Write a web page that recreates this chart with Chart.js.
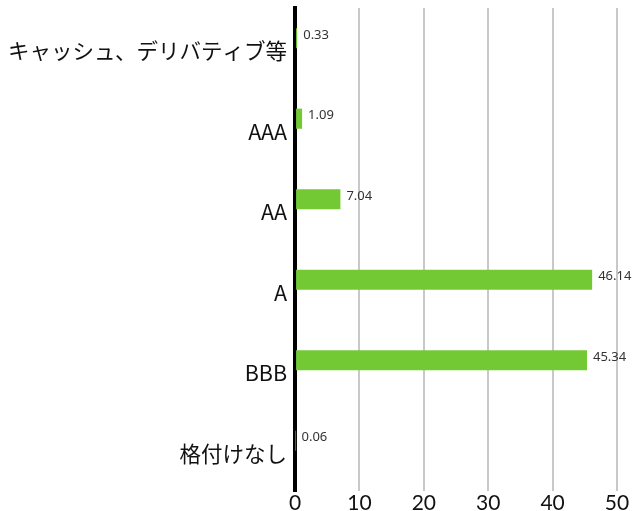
<!DOCTYPE html>
<html>
<head>
<meta charset="utf-8">
<script src="https://cdn.jsdelivr.net/npm/chart.js@4.4.0/dist/chart.umd.min.js"></script>
<style>
  body { margin: 0; background: #fff; }
  #wrap { width: 634px; height: 511px; }
</style>
</head>
<body>
<div id="wrap"><canvas id="myChart"></canvas></div>
<script>
const categories = ['キャッシュ、デリバティブ等', 'AAA', 'AA', 'A', 'BBB', '格付けなし'];
const values = [0.33, 1.09, 7.04, 46.14, 45.34, 0.06];
const spacer = [null, null, null, null, null, null];
const tickValues = [0, 10, 20, 30, 40, 50];

// value labels at the end of each bar
const valueLabels = {
  id: 'valueLabels',
  afterDatasetsDraw(chart) {
    const ctx = chart.ctx;
    const meta = chart.getDatasetMeta(0);
    ctx.save();
    ctx.font = '13px "Noto Sans", Lato';
    ctx.fillStyle = '#333';
    ctx.textAlign = 'left';
    ctx.textBaseline = 'middle';
    meta.data.forEach(function(bar, i) {
      ctx.fillText(values[i].toFixed(2), bar.x + 6, bar.y - 3);
    });
    ctx.restore();
  }
};

const ctx = document.getElementById('myChart').getContext('2d');
let myChart = new Chart(ctx, {
  type: 'bar',
  data: {
    labels: categories,
    datasets: [{
      data: values,
      backgroundColor: '#73c934',
      barPercentage: 1,
      categoryPercentage: 0.5
    }, {
      data: spacer,
      backgroundColor: 'rgba(0,0,0,0)',
      barPercentage: 1,
      categoryPercentage: 0.5
    }]
  },
  options: {
    indexAxis: 'y',
    responsive: true,
    maintainAspectRatio: false,
    animation: false,
    layout: { padding: { top: 8, right: 17, bottom: 0, left: 0 } },
    plugins: {
      legend: { display: false },
      tooltip: { enabled: false }
    },
    scales: {
      x: {
        min: 0,
        max: 50,
        afterBuildTicks: function(scale) {
          scale.ticks = tickValues.map(v => ({ value: v }));
        },
        afterFit: function(scale) {
          scale.height = 20;
          scale.paddingRight = 0;
          scale.paddingLeft = 0;
        },
        grid: { color: '#c8c8c8', lineWidth: 2, drawTicks: false },
        border: { display: false },
        ticks: {
          color: '#111',
          padding: 0,
          font: { family: 'Lato, "Noto Sans"', size: 21 }
        }
      },
      y: {
        afterFit: function(scale) {
          scale.paddingTop = 0;
          scale.paddingBottom = 0;
        },
        grid: { display: false, drawTicks: false },
        border: { display: true, color: '#000', width: 4 },
        ticks: {
          color: '#111',
          padding: 8,
          labelOffset: 3,
          font: { family: '"Noto Sans CJK JP", Lato', size: 21.5 }
        }
      }
    }
  },
  plugins: [valueLabels]
});
</script>
</body>
</html>
